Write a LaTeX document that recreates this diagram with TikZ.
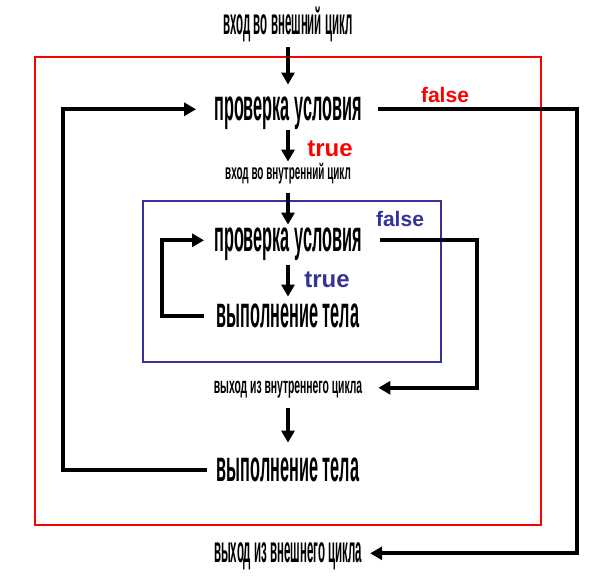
\documentclass[tikz,border=0pt]{standalone}
\usepackage{fontspec}
\setmainfont{Liberation Sans}
\newfontfamily\condbig[FakeStretch=0.37]{Liberation Sans}
\newfontfamily\condmid[FakeStretch=0.31]{Liberation Sans}
\newfontfamily\condsmall[FakeStretch=0.45]{Liberation Sans}
\usetikzlibrary{arrows.meta}

\begin{document}
\begin{tikzpicture}[
    x=1pt, y=-1pt,
    flow/.style={-{Triangle[length=12pt, width=13pt]}, line width=4pt, black},
    txt/.style={inner sep=0pt, text depth=0pt, anchor=south},
]

% ── Colors ──
\definecolor{outred}{HTML}{FF0000}
\definecolor{inblue}{HTML}{333399}

\useasboundingbox (0,0) rectangle (601,583);

% ══════════════════════════════════════════════
% Loop frames
% ══════════════════════════════════════════════
\node[draw=outred, line width=2pt, inner sep=0pt,
    minimum width=506pt, minimum height=468pt] (outerbox) at (288,291) {};
\node[draw=inblue, line width=2pt, inner sep=0pt,
    minimum width=298pt, minimum height=161pt] (innerbox) at (292,281.5) {};

% ══════════════════════════════════════════════
% Outer loop
% ══════════════════════════════════════════════
\node[txt, font=\condmid\bfseries\fontsize{37pt}{37pt}\selectfont, text height=19pt]
    (outin) at (288,35) {вход во внешний цикл};
\node[txt, font=\condbig\bfseries\fontsize{44pt}{44pt}\selectfont, text height=23pt]
    (ocheck) at (288,121) {проверка условия};
\node[txt, font=\bfseries\fontsize{21pt}{21pt}\selectfont, text=outred]
    (ofalse) at (445,103) {false};
\node[txt, font=\bfseries\fontsize{24pt}{24pt}\selectfont, text=outred]
    (otrue) at (330,157) {true};
\node[txt, font=\condsmall\bfseries\fontsize{22pt}{22pt}\selectfont, text height=11pt]
    (inin) at (288,180) {вход во внутренний цикл};

% ══════════════════════════════════════════════
% Inner loop
% ══════════════════════════════════════════════
\node[txt, font=\condbig\bfseries\fontsize{44pt}{44pt}\selectfont, text height=23pt]
    (icheck) at (288,252) {проверка условия};
\node[txt, font=\bfseries\fontsize{21pt}{21pt}\selectfont, text=inblue]
    (ifalse) at (400,227) {false};
\node[txt, font=\bfseries\fontsize{24pt}{24pt}\selectfont, text=inblue]
    (itrue) at (327,288) {true};
\node[txt, font=\condbig\bfseries\fontsize{44pt}{44pt}\selectfont, text height=23pt]
    (ibody) at (288,328) {выполнение тела};
\node[txt, font=\condsmall\bfseries\fontsize{23pt}{23pt}\selectfont, text height=12pt]
    (iout) at (288,394) {выход из внутреннего цикла};

% ══════════════════════════════════════════════
% After the inner loop
% ══════════════════════════════════════════════
\node[txt, font=\condbig\bfseries\fontsize{44pt}{44pt}\selectfont, text height=23pt]
    (obody) at (288,482) {выполнение тела};
\node[txt, font=\condmid\bfseries\fontsize{37pt}{37pt}\selectfont, text height=19pt]
    (oout) at (288,563) {выход из внешнего цикла};

% ══════════════════════════════════════════════
% Arrows
% ══════════════════════════════════════════════
\coordinate (oleft) at (63,0);
\coordinate (oright) at (577,0);
\coordinate (ileft) at (162,0);
\coordinate (iright) at (477,0);

\draw[flow, shorten <=12pt, shorten >=13pt] (outin) -- (ocheck);
\draw[flow, shorten <=9pt, shorten >=7pt] (ocheck) -- (inin);
\draw[flow, shorten <=13pt, shorten >=4pt] (inin) -- (icheck);
\draw[flow, shorten <=13pt, shorten >=8pt] (icheck) -- (ibody);
\draw[flow, shorten <=14pt, shorten >=16pt] (iout) -- (obody);

% loops back and exits
\draw[flow, shorten <=13pt, shorten >=10pt]
    (ibody.west) -- (ibody.west -| ileft) |- (icheck.west);
\draw[flow, shorten <=18pt, shorten >=16pt]
    (icheck.east) -- (icheck.east -| iright) |- (iout.east);
\draw[flow, shorten <=10pt, shorten >=18pt]
    (obody.west) -- (obody.west -| oleft) |- (ocheck.west);
\draw[flow, shorten <=16pt, shorten >=8pt]
    (ocheck.east) -- (ocheck.east -| oright) |- (oout.east);

\end{tikzpicture}
\end{document}
